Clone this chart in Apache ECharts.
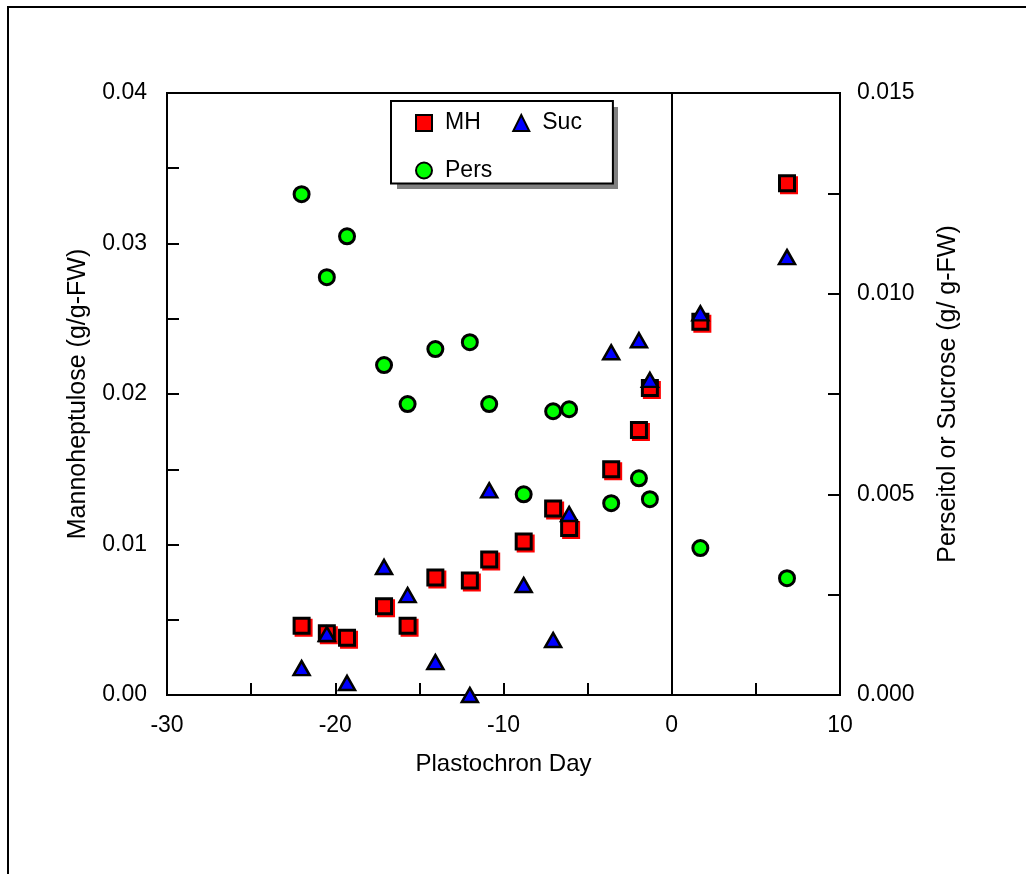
<!DOCTYPE html>
<html>
<head>
<meta charset="utf-8">
<title>Plastochron Day chart</title>
<script src="https://cdn.jsdelivr.net/npm/echarts@6/dist/echarts.min.js"></script>
<style>
  html, body { margin: 0; padding: 0; background: #fff; }
  #chart { width: 1026px; height: 874px; }
</style>
</head>
<body>
<div id="chart"></div>
<script>
// plastochron day for each sample
var days = [-22.0, -20.5, -19.3, -17.1, -15.7, -14.05, -12.0, -10.85, -8.8, -7.05, -6.1, -3.6, -1.95, -1.3, 1.7, 6.85]
// mannoheptulose, left axis (g/g-FW)
var mh = [0.0046, 0.0041, 0.0038, 0.0059, 0.0046, 0.0078, 0.0076, 0.0090, 0.0102, 0.0124, 0.0111, 0.0150, 0.0176, 0.0204, 0.0248, 0.0340]
// sucrose, right axis (g/g-FW)
var suc = [0.00067, 0.00152, 0.0003, 0.00319, 0.00249, 0.00082, 0.0000, 0.0051, 0.00274, 0.00137, 0.00451, 0.00854, 0.00884, 0.00785, 0.00951, 0.01091]
// perseitol, right axis (g/g-FW)
var pers = [0.01248, 0.01041, 0.01143, 0.00822, 0.00725, 0.00862, 0.00879, 0.00725, 0.0050, 0.00707, 0.00712, 0.00478, 0.0054, 0.00488, 0.00366, 0.00291]

var font = "'Liberation Sans', Arial, sans-serif"

function pairs (ys) {
  return days.map(function (d, i) { return [d, ys[i]] })
}
function isStep (v, step) {
  var r = v / step
  return Math.abs(r - Math.round(r)) < 1e-6
}

var chart = echarts.init(document.getElementById('chart'))
chart.setOption({
  animation: false,
  backgroundColor: '#fff',
  textStyle: { fontFamily: font, color: '#000' },
  graphic: [
    {
      // outer frame of the figure
      type: 'polyline',
      silent: true,
      shape: { points: [[8, 900], [8, 7], [1040, 7]] },
      style: { stroke: '#000', lineWidth: 2, fill: null }
    },
    {
      // legend drop shadow
      type: 'rect',
      silent: true,
      z: 1,
      shape: { x: 397, y: 107, width: 221, height: 82 },
      style: { fill: '#808080' }
    }
  ],
  grid: {
    left: 167,
    top: 93,
    width: 673,
    height: 602,
    show: true,
    borderColor: '#000',
    borderWidth: 2,
    containLabel: false,
    outerBoundsMode: 'none'
  },
  legend: {
    left: 391,
    top: 101,
    z: 5,
    orient: 'horizontal',
    width: 200,
    padding: [10, 23, 1, 24],
    itemGap: 23.5,
    itemWidth: 16,
    itemHeight: 16,
    backgroundColor: '#fff',
    borderColor: '#000',
    borderWidth: 2,
    borderRadius: 0,
    selectedMode: false,
    textStyle: {
      fontFamily: font,
      fontSize: 23,
      color: '#000',
      lineHeight: 24,
      padding: [0, 8, 0, 8]
    },
    data: ['MH', 'Suc', 'Pers']
  },
  xAxis: {
    type: 'value',
    min: -30,
    max: 10,
    interval: 5,
    name: 'Plastochron Day',
    nameLocation: 'middle',
    nameGap: 57,
    nameTextStyle: { fontFamily: font, fontSize: 24, color: '#000' },
    axisLine: { show: true, onZero: false, lineStyle: { color: '#000', width: 2 } },
    axisTick: { show: true, inside: true, length: 12, lineStyle: { color: '#000', width: 2 } },
    axisLabel: {
      margin: 19,
      fontFamily: font,
      fontSize: 23,
      color: '#000',
      formatter: function (v) { return isStep(v, 10) ? String(v) : '' }
    },
    splitLine: { show: false }
  },
  yAxis: [
    {
      type: 'value',
      position: 'left',
      min: 0,
      max: 0.04,
      interval: 0.005,
      name: 'Mannoheptulose (g/g-FW)',
      nameLocation: 'middle',
      nameRotate: 90,
      nameGap: 76,
      nameTextStyle: { fontFamily: font, fontSize: 25, color: '#000' },
      axisLine: { show: true, onZero: false, lineStyle: { color: '#000', width: 2 } },
      axisTick: { show: true, inside: true, length: 12, lineStyle: { color: '#000', width: 2 } },
      axisLabel: {
        margin: 20,
        fontFamily: font,
        fontSize: 23,
        color: '#000',
        formatter: function (v) { return isStep(v, 0.01) ? v.toFixed(2) : '' }
      },
      splitLine: { show: false }
    },
    {
      type: 'value',
      position: 'right',
      min: 0,
      max: 0.015,
      interval: 0.0025,
      name: 'Perseitol or Sucrose (g/ g-FW)',
      nameLocation: 'middle',
      nameRotate: 90,
      nameGap: 96,
      nameTextStyle: { fontFamily: font, fontSize: 25, color: '#000' },
      axisLine: { show: true, onZero: false, lineStyle: { color: '#000', width: 2 } },
      axisTick: { show: true, inside: true, length: 12, lineStyle: { color: '#000', width: 2 } },
      axisLabel: {
        margin: 17,
        fontFamily: font,
        fontSize: 23,
        color: '#000',
        formatter: function (v) { return isStep(v, 0.005) ? v.toFixed(3) : '' }
      },
      splitLine: { show: false }
    }
  ],
  series: [
    {
      name: 'MH',
      type: 'scatter',
      yAxisIndex: 0,
      symbol: 'rect',
      symbolSize: 15,
      itemStyle: {
        color: '#ff0000',
        borderColor: '#000',
        borderWidth: 3,
        shadowColor: '#ff0000',
        shadowBlur: 0,
        shadowOffsetX: 2,
        shadowOffsetY: 2,
        opacity: 1
      },
      markLine: {
        silent: true,
        symbol: 'none',
        label: { show: false },
        lineStyle: { color: '#000', width: 2, type: 'solid' },
        data: [{ xAxis: 0 }]
      },
      data: pairs(mh)
    },
    {
      name: 'Suc',
      type: 'scatter',
      yAxisIndex: 1,
      symbol: 'triangle',
      symbolSize: [16, 14],
      itemStyle: { color: '#0000ff', borderColor: '#000', borderWidth: 2.5, opacity: 1 },
      data: pairs(suc)
    },
    {
      name: 'Pers',
      type: 'scatter',
      yAxisIndex: 1,
      symbol: 'circle',
      symbolSize: 15,
      itemStyle: { color: '#00ff00', borderColor: '#000', borderWidth: 3, opacity: 1 },
      data: pairs(pers)
    }
  ]
})
</script>
</body>
</html>
